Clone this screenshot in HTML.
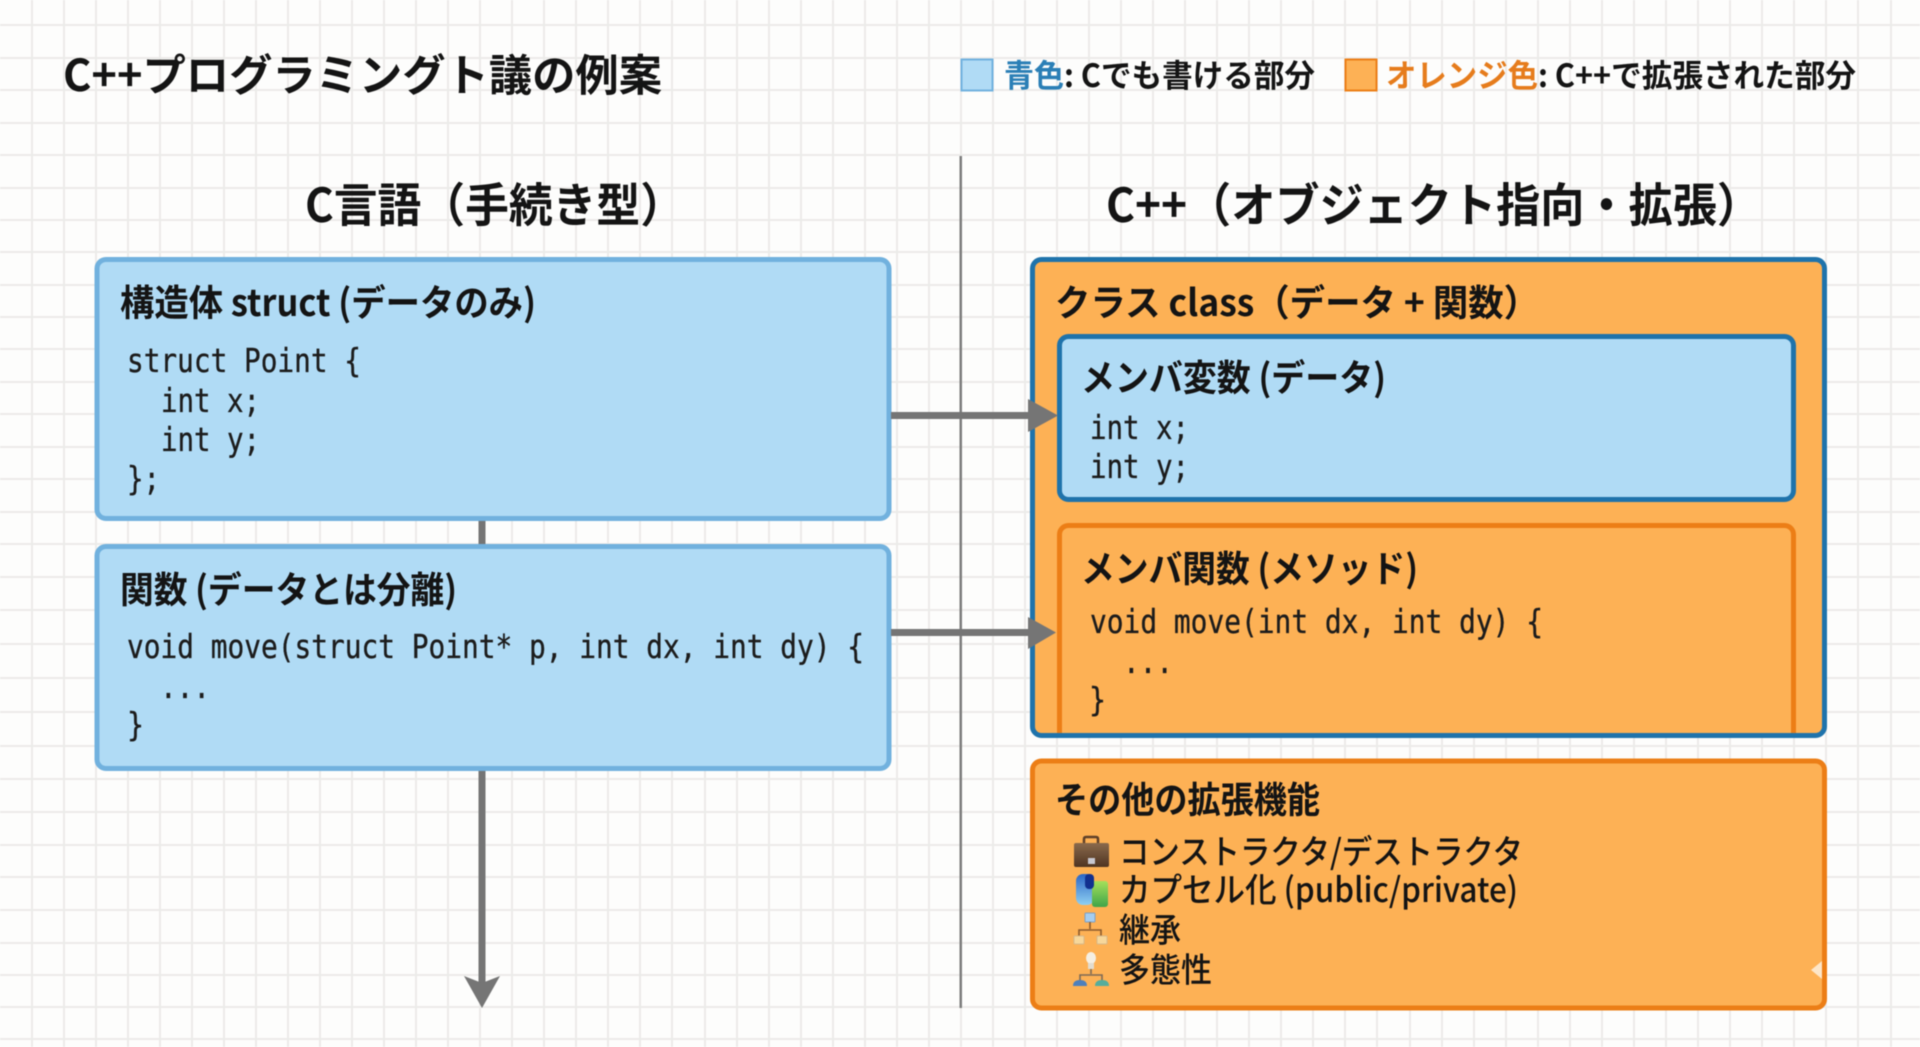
<!DOCTYPE html>
<html lang="ja">
<head>
<meta charset="utf-8">
<title>C++プログラミング講義の例案</title>
<style>
html,body{margin:0;padding:0;background:#fdfdfc;width:1920px;height:1047px;overflow:hidden}
svg{display:block;filter:blur(.4px)}
text{text-rendering:geometricPrecision;white-space:pre}
.s{font-family:"Noto Sans CJK JP","Liberation Sans",sans-serif;fill:#141414}
.b{font-weight:700}
.m{font-family:"DejaVu Sans Mono","Liberation Mono",monospace;font-size:33px;fill:#1c1c1c;stroke:#1c1c1c;stroke-width:.35px}
.h{font-size:37px}
</style>
</head>
<body>
<svg xmlns="http://www.w3.org/2000/svg" width="1920" height="1047" viewBox="0 0 1920 1047">
<defs>
<clipPath id="clipM"><rect x="1030" y="500" width="795" height="233"/></clipPath>
<linearGradient id="brief" x1="0" y1="0" x2="0" y2="1"><stop offset="0" stop-color="#8a6a4c"/><stop offset="1" stop-color="#4f3422"/></linearGradient>
<linearGradient id="capB" x1="0" y1="0" x2="0" y2="1"><stop offset="0" stop-color="#2b66c6"/><stop offset="1" stop-color="#8fd0f2"/></linearGradient>
<linearGradient id="capG" x1="0" y1="0" x2="0" y2="1"><stop offset="0" stop-color="#a5e05a"/><stop offset="1" stop-color="#3fa54a"/></linearGradient>
</defs>
<rect width="1920" height="1047" fill="#fdfdfc"/>
<g id="grid" stroke="#ecebe9" stroke-width="2" fill="none">
<path d="M0 25H1920M0 58H1920M0 90H1920M0 123H1920M0 155H1920M0 188H1920M0 220H1920M0 252H1920M0 285H1920M0 317H1920M0 349H1920M0 382H1920M0 414H1920M0 447H1920M0 479H1920M0 512H1920M0 544H1920M0 577H1920M0 610H1920M0 644H1920M0 678H1920M0 712H1920M0 746H1920M0 779H1920M0 812H1920M0 845H1920M0 877H1920M0 910H1920M0 943H1920M0 975H1920M0 1007H1920M0 1039H1920"/>
<path d="M32 0V1047M64 0V1047M96 0V1047M128 0V1047M160 0V1047M192 0V1047M224 0V1047M256 0V1047M288 0V1047M320 0V1047M352 0V1047M384 0V1047M416 0V1047M448 0V1047M480 0V1047M512 0V1047M544 0V1047M576 0V1047M608 0V1047M640 0V1047M672 0V1047M705 0V1047M737 0V1047M769 0V1047M801 0V1047M833 0V1047M865 0V1047M897 0V1047M929 0V1047M961 0V1047M993 0V1047M1025 0V1047M1057 0V1047M1089 0V1047M1121 0V1047M1153 0V1047M1185 0V1047M1217 0V1047M1249 0V1047M1281 0V1047M1313 0V1047M1345 0V1047M1377 0V1047M1410 0V1047M1442 0V1047M1474 0V1047M1506 0V1047M1538 0V1047M1570 0V1047M1602 0V1047M1634 0V1047M1666 0V1047M1698 0V1047M1730 0V1047M1762 0V1047M1794 0V1047M1826 0V1047M1858 0V1047M1891 0V1047"/>
</g>

<!-- title + legend -->
<text class="s b" x="63" y="91" font-size="44" textLength="599" lengthAdjust="spacingAndGlyphs">C++プログラミングト議の例案</text>
<rect x="961.5" y="59.5" width="31" height="31" fill="#b0dbf5" stroke="#71b1de" stroke-width="2"/>
<text class="s b" x="1004" y="87" font-size="32" textLength="60" lengthAdjust="spacingAndGlyphs" style="fill:#2b7fb6">青色</text>
<text class="s b" x="1064" y="87" font-size="32" textLength="251" lengthAdjust="spacingAndGlyphs">: Cでも書ける部分</text>
<rect x="1345.5" y="59.5" width="31" height="31" fill="#fdb155" stroke="#ec7e16" stroke-width="2"/>
<text class="s b" x="1386" y="87" font-size="32" textLength="152" lengthAdjust="spacingAndGlyphs" style="fill:#e67c1c">オレンジ色</text>
<text class="s b" x="1538" y="87" font-size="32" textLength="318" lengthAdjust="spacingAndGlyphs">: C++で拡張された部分</text>

<!-- column headings -->
<text class="s b" x="305" y="222" font-size="47" textLength="379" lengthAdjust="spacingAndGlyphs">C言語（手続き型）</text>
<text class="s b" x="1106" y="222" font-size="47" textLength="655" lengthAdjust="spacingAndGlyphs">C++（オブジェクト指向・拡張）</text>

<!-- divider -->
<rect x="959.5" y="156" width="2.5" height="852" fill="#7d7d7d"/>

<!-- vertical connector -->
<rect x="478.5" y="518" width="7" height="28" fill="#757575"/>
<rect x="478.5" y="769" width="7" height="215" fill="#757575"/>
<polygon points="464,976 482,983 500,976 482,1008" fill="#757575"/>

<!-- left boxes -->
<rect x="97" y="259.5" width="792" height="259" rx="9" fill="#b0dbf5" stroke="#71b1de" stroke-width="5"/>
<text class="s b h" x="120" y="316" textLength="416" lengthAdjust="spacingAndGlyphs">構造体 struct (データのみ)</text>
<text class="m" x="127" y="372" textLength="234" lengthAdjust="spacingAndGlyphs">struct Point {</text>
<text class="m" x="161" y="412" textLength="99" lengthAdjust="spacingAndGlyphs">int x;</text>
<text class="m" x="161" y="451" textLength="99" lengthAdjust="spacingAndGlyphs">int y;</text>
<text class="m" x="127" y="490" textLength="33" lengthAdjust="spacingAndGlyphs">};</text>

<rect x="97" y="546.5" width="792" height="222" rx="9" fill="#b0dbf5" stroke="#71b1de" stroke-width="5"/>
<text class="s b h" x="120" y="603" textLength="337" lengthAdjust="spacingAndGlyphs">関数 (データとは分離)</text>
<text class="m" x="127" y="658" textLength="737" lengthAdjust="spacingAndGlyphs">void move(struct Point* p, int dx, int dy) {</text>
<text class="m" x="160" y="698" textLength="50" lengthAdjust="spacingAndGlyphs">...</text>
<text class="m" x="127" y="736" textLength="17" lengthAdjust="spacingAndGlyphs">}</text>

<!-- right: class box -->
<rect x="1032.5" y="259.5" width="792" height="476" rx="9" fill="#fdb155"/>
<text class="s b h" x="1055" y="316" textLength="484" lengthAdjust="spacingAndGlyphs">クラス class（データ + 関数）</text>
<rect x="1059.5" y="336.5" width="734" height="163" rx="9" fill="#b0dbf5" stroke="#1f73ab" stroke-width="5"/>
<text class="s b h" x="1081" y="391" textLength="305" lengthAdjust="spacingAndGlyphs">メンバ変数 (データ)</text>
<text class="m" x="1090" y="439" textLength="99" lengthAdjust="spacingAndGlyphs">int x;</text>
<text class="m" x="1090" y="478" textLength="99" lengthAdjust="spacingAndGlyphs">int y;</text>
<g clip-path="url(#clipM)"><rect x="1059.5" y="525.5" width="734" height="260" rx="9" fill="#fdb155" stroke="#ec7e16" stroke-width="5"/></g>
<text class="s b h" x="1081" y="582" textLength="337" lengthAdjust="spacingAndGlyphs">メンバ関数 (メソッド)</text>
<text class="m" x="1090" y="633" textLength="453" lengthAdjust="spacingAndGlyphs">void move(int dx, int dy) {</text>
<text class="m" x="1123" y="673" textLength="50" lengthAdjust="spacingAndGlyphs">...</text>
<text class="m" x="1089" y="711" textLength="17" lengthAdjust="spacingAndGlyphs">}</text>
<rect x="1032.5" y="259.5" width="792" height="476" rx="9" fill="none" stroke="#1f73ab" stroke-width="5"/>

<!-- right: other features -->
<rect x="1032.5" y="761" width="792" height="247" rx="9" fill="#fdb155" stroke="#ec7e16" stroke-width="5"/>
<text class="s b h" x="1055" y="813" textLength="265" lengthAdjust="spacingAndGlyphs">その他の拡張機能</text>
<text class="s" x="1119" y="864" font-size="34" font-weight="500" textLength="404" lengthAdjust="spacingAndGlyphs">コンストラクタ/デストラクタ</text>
<text class="s" x="1119" y="902" font-size="34" font-weight="500" textLength="399" lengthAdjust="spacingAndGlyphs">カプセル化 (public/private)</text>
<text class="s" x="1119" y="942" font-size="34" font-weight="500" textLength="62" lengthAdjust="spacingAndGlyphs">継承</text>
<text class="s" x="1119" y="982" font-size="34" font-weight="500" textLength="93" lengthAdjust="spacingAndGlyphs">多態性</text>
<polygon points="1811,970 1822,961 1822,979" fill="#fde6c8"/>

<!-- briefcase icon -->
<path d="M1084 844v-5q0-2 2-2h10q2 0 2 2v5" fill="none" stroke="#5e4028" stroke-width="2.5"/>
<rect x="1074" y="843" width="35" height="24" rx="2" fill="url(#brief)"/>
<rect x="1088" y="858" width="7" height="6" fill="#c8c8d0"/>
<!-- capsule icon -->
<rect x="1076" y="874" width="18" height="31" rx="7" fill="url(#capB)"/>
<rect x="1092" y="881" width="16" height="26" rx="3" fill="url(#capG)"/>
<rect x="1085" y="874" width="9" height="15" rx="4" fill="#12308f"/>
<!-- inheritance icon -->
<rect x="1085" y="913" width="10" height="9" rx="1" fill="#a5cdef" stroke="#7e9fc0"/>
<path d="M1090 922v7M1079 936v-6h22v6" fill="none" stroke="#8a5a2e" stroke-width="1.6"/>
<rect x="1074" y="936" width="10" height="8" rx="1" fill="#f7d79a" stroke="#d7b98a"/>
<rect x="1097" y="936" width="10" height="8" rx="1" fill="#f7d79a" stroke="#d7b98a"/>
<!-- polymorphism icon -->
<ellipse cx="1091" cy="958" rx="5" ry="6" fill="#f5efe3"/>
<rect x="1088" y="963" width="6" height="6" fill="#e2dccf"/>
<path d="M1091 969v5M1080 982v-7h22v7" fill="none" stroke="#7d6a55" stroke-width="1.6"/>
<path d="M1073 986q0-6 7-6t7 6z" fill="#4f80bb"/>
<path d="M1095 986q0-6 7-6t7 6z" fill="#55ad9c"/>

<!-- horizontal connectors (on top of the class box border) -->
<rect x="891" y="412" width="140" height="7" fill="#757575"/>
<polygon points="1028,399 1058,415.5 1028,432" fill="#757575"/>
<rect x="891" y="629" width="140" height="7" fill="#757575"/>
<polygon points="1028,617 1056,632.5 1028,649" fill="#757575"/>
</svg>
</body>
</html>
